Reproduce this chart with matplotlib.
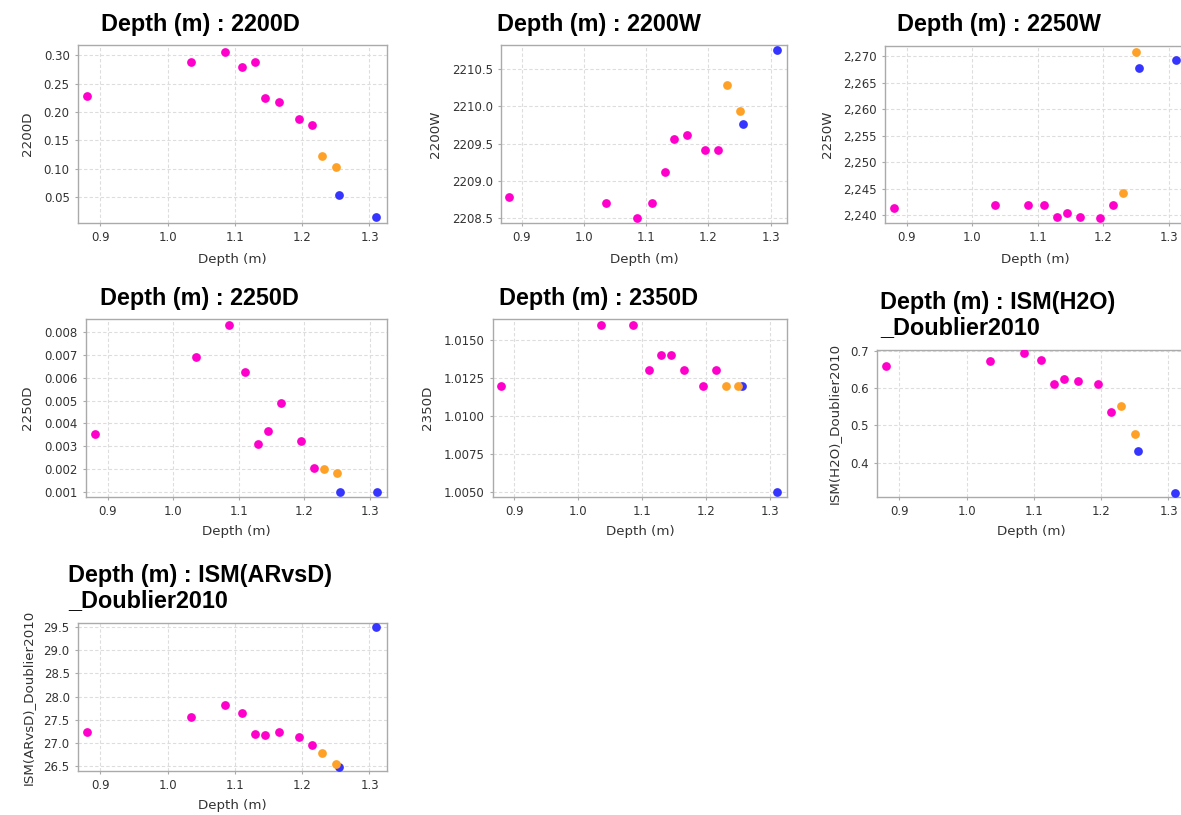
import numpy as np
import matplotlib
matplotlib.use("Agg")
import matplotlib.pyplot as plt
from matplotlib.ticker import FuncFormatter

# depth of each sample and its group (colour)
depth = [0.88, 1.035, 1.085, 1.11, 1.13, 1.145, 1.165, 1.195, 1.215, 1.23, 1.25, 1.255, 1.31]
group = ['pink'] * 9 + ['orange'] * 2 + ['blue'] * 2

v_2200D = [0.228, 0.288, 0.305, 0.279, 0.288, 0.224, 0.217, 0.188, 0.176, 0.122, 0.102, 0.053, 0.015]
v_2200W = [2208.79, 2208.70, 2208.51, 2208.70, 2209.12, 2209.56, 2209.61, 2209.42, 2209.41,
           2210.29, 2209.93, 2209.76, 2210.75]
v_2250W = [2241.4, 2241.9, 2241.9, 2241.9, 2239.7, 2240.4, 2239.7, 2239.4, 2241.9,
           2244.3, 2270.9, 2267.8, 2269.25]
v_2250D = [0.00353, 0.00692, 0.00832, 0.00624, 0.00308, 0.00369, 0.00488, 0.00324, 0.00207,
           0.00201, 0.00183, 0.0010, 0.0010]
v_2350D = [1.012, 1.016, 1.016, 1.013, 1.014, 1.014, 1.013, 1.012, 1.013, 1.012, 1.012, 1.012, 1.005]
v_h2o = [0.660, 0.673, 0.695, 0.676, 0.611, 0.625, 0.619, 0.611, 0.536, 0.552, 0.476, 0.431, 0.318]
v_arvsd = [27.24, 27.565, 27.81, 27.64, 27.20, 27.17, 27.23, 27.12, 26.95, 26.79, 26.54, 26.49, 29.5]

colors = {'pink': '#ff00cc', 'orange': '#ffa126', 'blue': '#3535ff'}

W, H = 1181, 815
fig = plt.figure(figsize=(W / 100, H / 100), dpi=100)

TITLE_FONT = dict(family='Liberation Sans', weight='bold', size=16.8)
LABEL_FONT = dict(family='DejaVu Sans', size=9.6, color='#333333')


def fx(px):
    return px / W


def fy(py):
    return 1 - py / H


# panels: name, values, axes box (px: left, top, right, bottom), ylim, yticks, fmt,
#         title centre x, title centre y, ylabel x, xlabel y
panels = [
    ('2200D', v_2200D, (78, 45, 387, 223), (0.004, 0.318), np.arange(0.05, 0.301, 0.05),
     '{:.2f}', 200, 25, 28, 259),
    ('2200W', v_2200W, (501, 45, 787, 223), (2208.437, 2210.82), np.arange(2208.5, 2210.51, 0.5),
     '{:.1f}', 599, 25, 435, 259),
    ('2250W', v_2250W, (885, 46, 1186, 223), (2238.55, 2271.94), np.arange(2240, 2271, 5),
     '{:,.0f}', 999, 25, 827, 259),
    ('2250D', v_2250D, (86, 319, 387, 497), (0.00078, 0.00857), np.arange(0.001, 0.00801, 0.001),
     '{:.3f}', 199, 299, 28, 532),
    ('2350D', v_2350D, (493, 319, 787, 497), (1.00467, 1.01639), np.arange(1.005, 1.01501, 0.0025),
     '{:.4f}', 599, 299, 428, 532),
    ('ISM(H2O)_Doublier2010', v_h2o, (877, 350, 1186, 497), (0.3075, 0.7027),
     np.arange(0.4, 0.701, 0.1), '{:.1f}', 998, 315, 834, 532),
    ('ISM(ARvsD)_Doublier2010', v_arvsd, (78, 623, 387, 771), (26.40, 29.58),
     np.arange(26.5, 29.51, 0.5), '{:.1f}', 200, 588, 28, 806),
]

for name, vals, box, ylim, yticks, fmt, tx, ty, ylx, xly in panels:
    l, t, r, b = box
    ax = fig.add_axes([fx(l), fy(b), fx(r) - fx(l), fy(t) - fy(b)])
    d = np.array(depth)
    v = np.array(vals)
    g = np.array(group)
    for grp in ['blue', 'orange', 'pink']:
        m = g == grp
        ax.plot(d[m], v[m], 'o', color=colors[grp], markersize=6.3,
                markeredgewidth=0, zorder=3)
    ax.set_xlim(0.867, 1.326)
    ax.set_ylim(*ylim)
    ax.set_xticks([0.9, 1.0, 1.1, 1.2, 1.3])
    ax.xaxis.set_major_formatter(FuncFormatter(lambda x, p: '{:.1f}'.format(x)))
    ax.set_yticks(yticks)
    ax.yaxis.set_major_formatter(FuncFormatter(lambda y, p, f=fmt: f.format(y)))
    ax.grid(True, color='#dddddd', linestyle=(0, (3, 2)), linewidth=0.8)
    ax.set_axisbelow(True)
    for sp in ax.spines.values():
        sp.set_color('#aaaaaa')
        sp.set_linewidth(1.0)
    ax.tick_params(length=2, width=0.8, color='#aaaaaa', labelsize=8.5,
                   labelcolor='#333333', pad=4)

    if '_' in name:
        a, bpart = name.split('_')
        title = 'Depth (m) : ' + a + '\n_' + bpart
    else:
        title = 'Depth (m) : ' + name
    fig.text(fx(tx), fy(ty), title, ha='center', va='center', multialignment='left',
             linespacing=1.15, **TITLE_FONT)
    fig.text(fx((l + r) / 2), fy(xly), 'Depth (m)', ha='center', va='center', **LABEL_FONT)
    fig.text(fx(ylx), fy((t + b) / 2), name, ha='center', va='center', rotation=90, **LABEL_FONT)

fig.savefig('out.png', dpi=100)
